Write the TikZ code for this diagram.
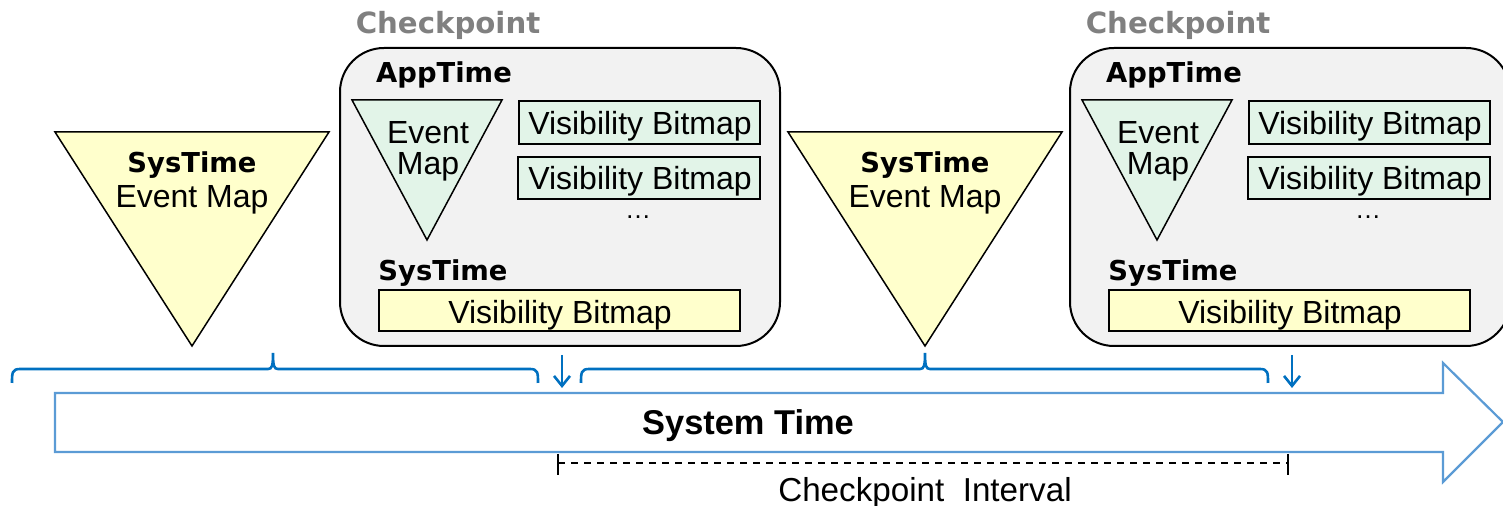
\documentclass[tikz,border=0pt]{standalone}
\usepackage{fontspec}
\setmainfont{Liberation Sans}
\newfontfamily\vfont{DejaVu Sans}
\usetikzlibrary{arrows.meta,calc}
\definecolor{yel}{HTML}{FFFFCC}
\definecolor{grn}{HTML}{E2F4E8}
\definecolor{gbox}{HTML}{F2F2F2}
\definecolor{ablue}{HTML}{5B9BD5}
\definecolor{bblue}{HTML}{0070C0}
\definecolor{cpgray}{HTML}{808080}
\tikzset{
  tri/.style={draw=black,line width=0.75pt,line join=miter},
  vbg/.style={draw=black,fill=grn,line width=0.75pt},
  vby/.style={draw=black,fill=yel,line width=0.75pt},
  cpbox/.style={draw=black,fill=gbox,line width=1pt,rounded corners=22pt},
  lbl/.style={inner sep=0pt,yshift=-1.8pt,font=\fontsize{16}{19}\selectfont},
  hd/.style={inner sep=0pt,yshift=-1.5pt,font=\vfont\bfseries\fontsize{13.7}{16}\selectfont},
  cptitle/.style={inner sep=0pt,yshift=-1.5pt,text=cpgray,font=\vfont\bfseries\fontsize{14.6}{17}\selectfont},
  bracestyle/.style={draw=bblue,line width=1.3pt},
  downarr/.style={draw=bblue,line width=1.3pt,-{Straight Barb[length=5pt,width=8pt,line width=1.3pt]}},
}
\newcommand\mybrace[3]{%
  \draw[bracestyle] (#1,383) .. controls (#1,373) and (#1,369) .. ($(#1,369)+(8,0)$) -- ($(#2,369)+(-5,0)$)
    .. controls ($(#2,369)+(-1,0)$) and (#2,366) .. (#2,353)
    .. controls (#2,366) and ($(#2,369)+(1,0)$) .. ($(#2,369)+(5,0)$) -- ($(#3,369)+(-8,0)$)
    .. controls (#3,369) and (#3,373) .. (#3,383);}
\begin{document}
\begin{tikzpicture}[x=0.5pt,y=-0.5pt]
\useasboundingbox (0,0) rectangle (1503,506);
\begin{scope}
\clip (0,0) rectangle (1503,506);
% big arrow
\draw[draw=ablue,line width=1.1pt,fill=white] (55,393) -- (1443,393) -- (1443,363) -- (1503,422) -- (1443,482) -- (1443,452) -- (55,452) -- cycle;
\node[inner sep=0pt,yshift=-1.8pt,font=\bfseries\fontsize{17.2}{20}\selectfont] (st) at (748,422) {System Time};

% SysTime triangles
\foreach \dx/\nm in {0/a,733/b}{
  \draw[tri,fill=yel] (55+\dx,132) -- (329+\dx,132) -- (192+\dx,346) -- cycle;
  \node[hd] (sys\nm) at (192+\dx,162) {SysTime};
  \node[lbl] (ev\nm) at (192+\dx,196) {Event Map};
}

% checkpoint boxes
\foreach \dx/\nm in {0/a,730/b}{
  \node[cptitle] (cp\nm) at (448+\dx,22) {Checkpoint};
  \draw[cpbox] (340+\dx,48) rectangle (780+\dx,346);
  \node[hd] (app\nm) at (444+\dx,72) {AppTime};
  \draw[tri,fill=grn] (352+\dx,100) -- (502+\dx,100) -- (427+\dx,240) -- cycle;
  \node[lbl] (eva\nm) at (428+\dx,129) {Event};
  \node[lbl] (evb\nm) at (428+\dx,163) {Map};
  \draw[vbg] (519+\dx,101) rectangle (760+\dx,144);
  \node[lbl] (vb1\nm) at (640+\dx,123) {Visibility Bitmap};
  \draw[vbg] (518+\dx,157) rectangle (760+\dx,199);
  \node[lbl] (vb2\nm) at (640+\dx,178) {Visibility Bitmap};
  \node[lbl] (dots\nm) at (638+\dx,214) {\fontsize{13}{15}\selectfont\dots};
  \node[hd] (sst\nm) at (443+\dx,270) {SysTime};
  \draw[vby] (379+\dx,290) rectangle (740+\dx,331);
  \node[lbl] (vb3\nm) at (560+\dx,312) {Visibility Bitmap};
}

% braces
\mybrace{12}{273}{538}
\mybrace{581}{925}{1268}

% down arrows
\coordinate (d1s) at (562,355); \coordinate (d1e) at (562,388);
\coordinate (d2s) at (1292,355); \coordinate (d2e) at (1292,388);
\draw[downarr] (d1s) -- (d1e);
\draw[downarr] (d2s) -- (d2e);

% interval
\coordinate (i1) at (558,463); \coordinate (i2) at (1288,463);
\draw[line width=0.6pt,dash pattern=on 3.5pt off 3pt] (i1) -- (i2);
\draw[line width=0.8pt] ($(i1)+(0,-9)$) -- ($(i1)+(0,12)$);
\draw[line width=0.8pt] ($(i2)+(0,-9)$) -- ($(i2)+(0,12)$);
\node[inner sep=0pt,yshift=-1.5pt,font=\fontsize{16.6}{19}\selectfont] (ci) at (925,490) {Checkpoint\ \ Interval};
\end{scope}
\end{tikzpicture}
\end{document}
